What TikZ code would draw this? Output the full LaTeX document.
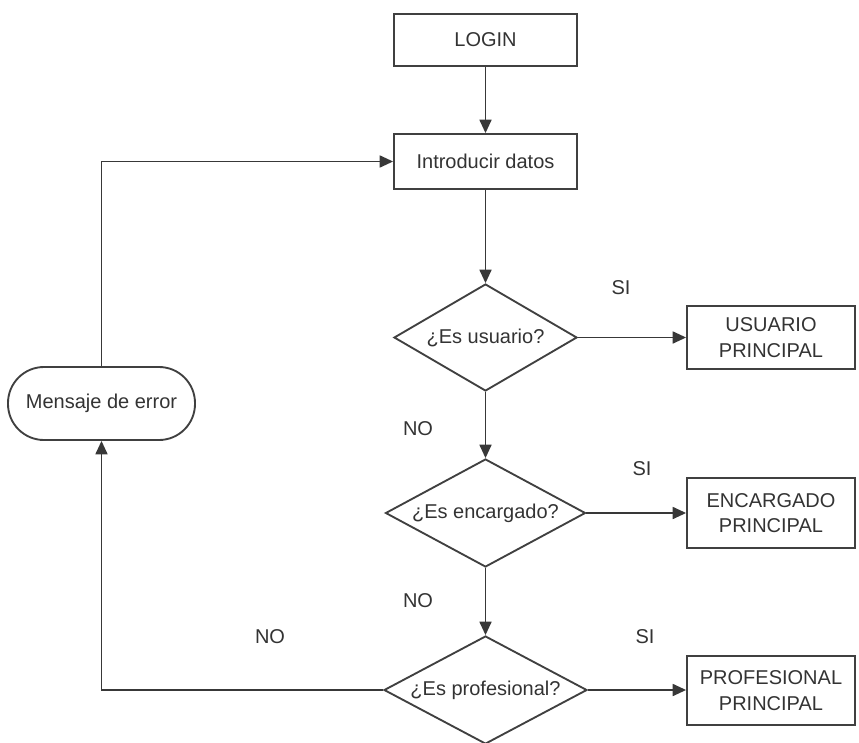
\documentclass[tikz,border=0pt]{standalone}
\usepackage{fontspec}
\setmainfont{Liberation Sans}
\usetikzlibrary{shapes.geometric,arrows.meta}
\begin{document}
\begin{tikzpicture}[x=0.75pt,y=-0.75pt,
  ink/.style={draw=black!75, line width=1.4pt},
  txt/.style={text=black!80, font=\fontsize{15}{19}\selectfont, align=center, inner sep=0pt},
  box/.style={ink, rectangle, txt, minimum width=#1*0.75pt},
  dia/.style={ink, diamond, inner sep=0pt},
  lbl/.style={txt},
  arr/.style={draw=black!78, line width=1.2pt, -{Triangle[length=10pt,width=9pt]}}
]
\useasboundingbox (0,0) rectangle (859,742);
\node[box=183, minimum height=52*0.75pt] (login) at (485.5,40) {LOGIN};
\node[box=183, minimum height=55*0.75pt] (intro) at (485.5,161.5) {Introducir datos};
\node[dia, minimum width=183*0.75pt, minimum height=107*0.75pt] (d1) at (485.5,337.5) {};
\node[txt] at (d1) {¿Es usuario?};
\node[dia, minimum width=200*0.75pt, minimum height=108*0.75pt] (d2) at (485.5,513) {};
\node[txt] at (d2) {¿Es encargado?};
\node[dia, minimum width=203*0.75pt, minimum height=108*0.75pt] (d3) at (485.5,690) {};
\node[txt] at (d3) {¿Es profesional?};
\node[box=168, minimum height=63*0.75pt] (usu) at (771,337.5) {USUARIO\\PRINCIPAL};
\node[box=168, minimum height=70*0.75pt] (enc) at (771,513) {ENCARGADO\\PRINCIPAL};
\node[box=168, minimum height=69*0.75pt] (pro) at (771,690.5) {PROFESIONAL\\PRINCIPAL};
\node[ink, rounded corners=36*0.75pt, txt, minimum width=187*0.75pt, minimum height=73*0.75pt] (msg) at (101.5,403.5) {Mensaje de error};
\node[lbl] (si1) at (621,288) {SI};
\node[lbl] (si2) at (642,469) {SI};
\node[lbl] (si3) at (645,637) {SI};
\node[lbl] (no1) at (418,429) {NO};
\node[lbl] (no2) at (418,601) {NO};
\node[lbl] (no3) at (270,637) {NO};
\draw[arr] (login) -- (intro);
\draw[arr] (intro) -- (d1.north);
\draw[arr] (d1.south) -- (d2.north);
\draw[arr] (d2.south) -- (d3.north);
\draw[arr] (d1.east) -- (d1.east -| usu.west);
\draw[arr] (d2.east) -- (d2.east -| enc.west);
\draw[arr] (d3.east) -- (d3.east -| pro.west);
\draw[arr] (d3.west) -| (msg.south);
\draw[arr] (msg.north) |- (intro.west);
\end{tikzpicture}
\end{document}
